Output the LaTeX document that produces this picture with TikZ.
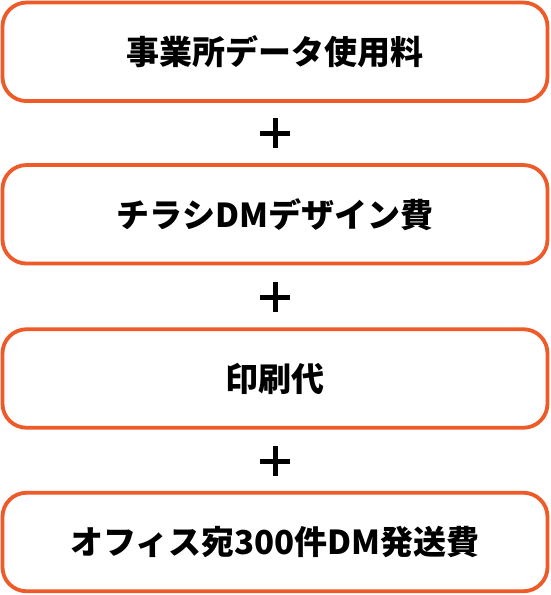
\documentclass[tikz,border=0pt]{standalone}
\usepackage{fontspec}
\newfontfamily\jp{Noto Sans CJK JP}
\definecolor{boxorange}{HTML}{EE5A28}
\tikzset{
  costbox/.style={draw=boxorange, line width=3.8pt, rounded corners=24pt, fill=white,
    minimum width=545pt, minimum height=98.5pt, inner sep=0pt,
    font=\jp\bfseries\fontsize{33}{37}\selectfont, text=black},
  plusbar/.style={line width=5pt, black}
}
\begin{document}
\begin{tikzpicture}[x=1pt,y=-1pt]
\useasboundingbox (0,0) rectangle (550,595);
\node[costbox] (b1) at (275,51.8) {事業所データ使用料};
\node[costbox] (b2) at (275,214.3) {チラシDMデザイン費};
\node[costbox] (b3) at (275,378.5) {印刷代};
\node[costbox] (b4) at (275,542) {オフィス宛300件DM発送費};
\foreach \n/\y in {p1/133, p2/297, p3/461} {
  \coordinate (\n) at (275,\y);
  \draw[plusbar] ([xshift=-15pt]\n) -- ([xshift=15pt]\n);
  \draw[plusbar] ([yshift=-15pt]\n) -- ([yshift=15pt]\n);
}
\end{tikzpicture}
\end{document}
